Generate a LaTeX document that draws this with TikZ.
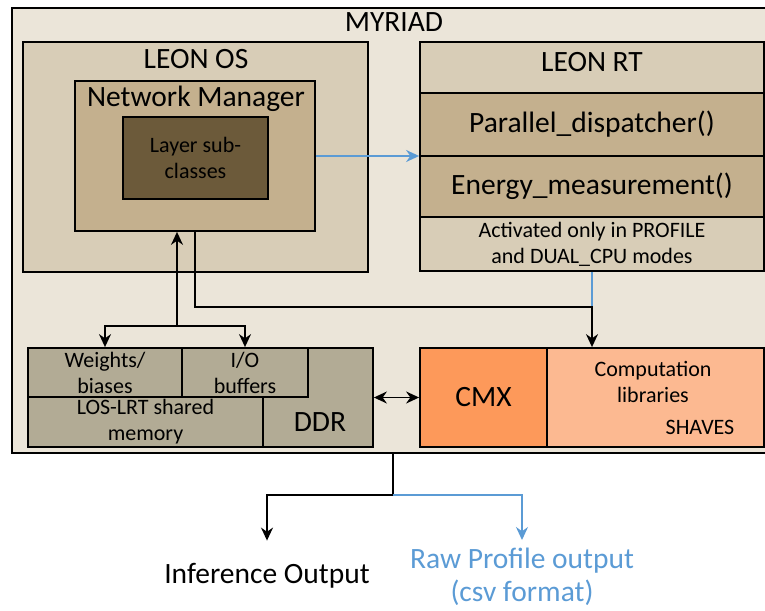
\documentclass[tikz,border=0pt]{standalone}
\usepackage{fontspec}
\setmainfont{Carlito}
\usetikzlibrary{arrows.meta}
\definecolor{myriadbg}{RGB}{235,229,217}
\definecolor{leonbg}{RGB}{216,205,183}
\definecolor{netbg}{RGB}{196,176,142}
\definecolor{layerbg}{RGB}{108,90,58}
\definecolor{ddrbg}{RGB}{178,171,149}
\definecolor{cmxbg}{RGB}{253,153,90}
\definecolor{shavebg}{RGB}{252,185,145}
\definecolor{profblue}{RGB}{91,155,213}
\newcommand{\bigtext}{\fontsize{29.5}{33}\selectfont}
\newcommand{\smtext}{\fontsize{22}{26}\selectfont}
\newcommand{\rtw}{344pt}
\tikzset{
    box/.style={rectangle, draw, line width=1.8pt, inner sep=0pt},
    lbl/.style={inner sep=0pt, font=\bigtext},
    note/.style={inner sep=0pt, font=\smtext, align=center},
    conn/.style={line width=1.6pt, -{Stealth[length=13pt,width=12pt]}},
    dconn/.style={line width=1.6pt, {Stealth[length=13pt,width=12pt]}-{Stealth[length=13pt,width=12pt]}},
    profline/.style={line width=1.6pt, draw=profblue}
}
\begin{document}
\begin{tikzpicture}[x=1pt, y=-1pt]
    \useasboundingbox (0,0) rectangle (765,610);
    \node[box, fill=myriadbg, minimum width=758pt, minimum height=445pt] (myriad) at (391,230.5) {};
    \node[lbl, anchor=base] (myriadlbl) at (394,32) {MYRIAD};

    \node[box, fill=leonbg, minimum width=345pt, minimum height=230pt] (leonos) at (195.5,157) {};
    \node[lbl, anchor=base] (leonoslbl) at (196,69) {LEON OS};
    \node[box, fill=netbg, minimum width=240pt, minimum height=150pt] (netman) at (195,156) {};
    \node[lbl, anchor=base] (netmanlbl) at (196,106) {Network Manager};
    \node[box, fill=layerbg, minimum width=145pt, minimum height=82pt, note] (layers) at (195.5,158) {Layer sub-\\classes};

    \node[box, fill=leonbg, minimum width=\rtw, minimum height=51pt] (leonrt) at (592,67.5) {};
    \node[lbl, anchor=base] (leonrtlbl) at (592,71) {LEON RT};
    \node[box, fill=netbg, minimum width=\rtw, minimum height=63pt, font=\bigtext] (dispatch) at (592,124.5) {Parallel\_dispatcher()};
    \node[box, fill=netbg, minimum width=\rtw, minimum height=61pt, font=\bigtext] (energy) at (592,186.5) {Energy\_measurement()};
    \node[box, fill=leonbg, minimum width=\rtw, minimum height=54pt, note] (activ) at (592,244) {Activated only in PROFILE\\and DUAL\_CPU modes};

    \node[box, fill=ddrbg, minimum width=345pt, minimum height=99pt] (ddr) at (200.5,397.5) {};
    \node[lbl, anchor=base] (ddrlbl) at (320,431) {DDR};
    \node[box, fill=ddrbg, minimum width=154pt, minimum height=49pt, note] (weights) at (105,372.5) {Weights/\\biases};
    \node[box, fill=ddrbg, minimum width=126pt, minimum height=49pt, note] (iobuf) at (245,372.5) {I/O\\buffers};
    \node[box, fill=ddrbg, minimum width=235pt, minimum height=50pt, note] (shared) at (145.5,422) {LOS-LRT shared\\memory};

    \node[box, fill=cmxbg, minimum width=127pt, minimum height=99pt, font=\bigtext] (cmx) at (483.5,397.5) {CMX};
    \node[box, fill=shavebg, minimum width=217pt, minimum height=99pt] (shaves) at (655.5,397.5) {};
    \node[note] (complib) at (653,382) {Computation\\libraries};
    \node[note, anchor=base] (shaveslbl) at (700,434) {SHAVES};

    \node[lbl, anchor=base] (infer) at (267,583) {Inference Output};
    \node[lbl, text=profblue, align=center] (rawprof) at (522,577) {Raw Profile output\\(csv format)};

    \draw[conn, profline] (netman.east) -- (netman.east -| dispatch.west);

    \coordinate (fork) at (177,326);
    \draw[conn] (fork) -- (fork |- netman.south);
    \draw[conn] (fork) -| (weights.north);
    \draw[conn] (fork) -| (iobuf.north);

    \coordinate (join) at (592,307);
    \draw[profline] (activ.south) -- (join);
    \draw[conn] (netman.south) |- (join) -- (join |- shaves.north);
    \draw[dconn] (ddr.east) -- (cmx.west);

    \coordinate (split) at (393,495);
    \draw[line width=1.6pt] (myriad.south -| split) -- (split);
    \draw[conn, shorten >=22pt] (split) -| (infer.north);
    \draw[conn, profline, shorten >=8pt] (split) -| (rawprof.north);
\end{tikzpicture}
\end{document}
